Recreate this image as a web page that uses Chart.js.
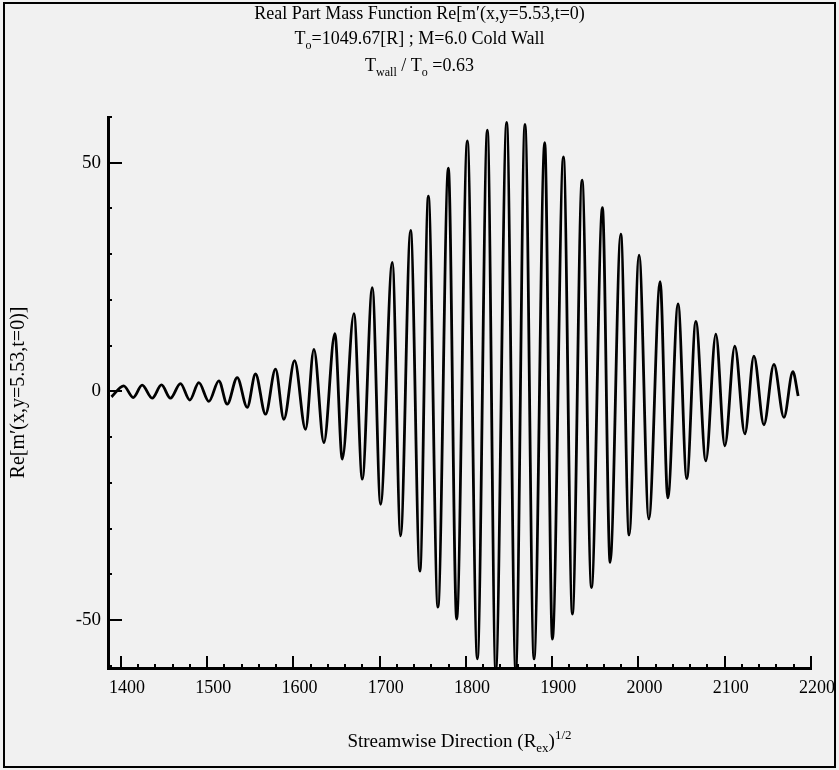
<!DOCTYPE html>
<html>
<head>
<meta charset="utf-8">
<script src="https://cdn.jsdelivr.net/npm/chart.js@4.4.1/dist/chart.umd.min.js"></script>
<style>
  html, body { margin: 0; padding: 0; background: #ffffff; }
  canvas { display: block; }
</style>
</head>
<body>
<canvas id="c" width="839" height="770"></canvas>
<script>
// Streamwise positions of the curve's turning points (start, alternating peaks/troughs, end)
const xValues = [
  1389.0, 1403.2, 1414.2, 1424.6, 1436.2, 1447.0, 1457.4, 1469.0, 1479.8, 1490.3,
  1501.9, 1513.5, 1523.2, 1534.8, 1546.4, 1556.0, 1567.6, 1579.2, 1588.9, 1601.3,
  1614.0, 1623.7, 1635.3, 1648.0, 1656.6, 1670.1, 1679.8, 1691.4, 1701.0, 1714.6,
  1724.2, 1735.8, 1746.6, 1756.4, 1767.5, 1779.6, 1789.2, 1801.6, 1813.2, 1824.8,
  1834.5, 1847.2, 1857.7, 1868.4, 1878.9, 1891.3, 1900.2, 1913.0, 1923.4, 1934.6,
  1945.5, 1958.2, 1967.1, 1979.5, 1989.1, 2000.7, 2012.0, 2025.1, 2034.0, 2045.9,
  2056.0, 2066.5, 2078.1, 2089.7, 2100.1, 2111.7, 2123.3, 2133.8, 2145.4, 2157.0,
  2168.6, 2179.0, 2185.1
];
// Re[m'] values at those points
const yValues = [
  -1.2, 1.2, -1.35, 1.35, -1.5, 1.4, -1.5, 1.7, -1.9, 1.9,
  -2.2, 2.3, -2.8, 3.0, -3.5, 3.8, -5.0, 4.85, -6.1, 6.7,
  -8.3, 9.2, -11.2, 12.6, -14.8, 17.0, -19.2, 22.7, -24.7, 28.2,
  -31.6, 35.2, -39.3, 42.7, -47.2, 48.8, -49.8, 54.8, -58.5, 57.1,
  -61.0, 58.8, -61.0, 58.4, -58.5, 54.4, -54.2, 51.3, -48.7, 46.2,
  -42.9, 40.2, -37.4, 34.4, -31.4, 29.8, -27.9, 24.0, -23.3, 19.1,
  -19.1, 15.3, -15.2, 12.5, -11.9, 9.9, -9.3, 7.7, -7.3, 5.9,
  -5.7, 4.3, -1.0
];
const xTickLabels = [1400, 1500, 1600, 1700, 1800, 1900, 2000, 2100, 2200];
const yTickLabels = [-50, 0, 50];
const xMinorStep = 20;
const yMinorStep = 10;

const titleLines = [
  [{t: "Real Part Mass Function Re[m\u2032(x,y=5.53,t=0)"}],
  [{t: "T"}, {t: "o", m: "sub"}, {t: "=1049.67[R] ; M=6.0 Cold Wall"}],
  [{t: "T"}, {t: "wall", m: "sub"}, {t: " / T"}, {t: "o", m: "sub"}, {t: " =0.63"}]
];
const xTitle = [{t: "Streamwise Direction (R"}, {t: "ex", m: "sub"}, {t: ")"}, {t: "1/2", m: "sup"}];
const yTitle = "Re[m\u2032(x,y=5.53,t=0)]";

const FONT = "'Liberation Serif', 'DejaVu Serif', serif";

function drawRich(ctx, segs, cx, y, size) {
  const small = Math.round(size * 0.66);
  let total = 0;
  segs.forEach(s => {
    ctx.font = (s.m ? small : size) + "px " + FONT;
    s.w = ctx.measureText(s.t).width;
    total += s.w;
  });
  let x = cx - total / 2;
  ctx.textAlign = "left";
  ctx.textBaseline = "alphabetic";
  segs.forEach(s => {
    ctx.font = (s.m ? small : size) + "px " + FONT;
    let dy = 0;
    if (s.m === "sub") dy = size * 0.28;
    if (s.m === "sup") dy = -size * 0.42;
    ctx.fillText(s.t, x, y + dy);
    x += s.w;
  });
}

const decor = {
  id: "decor",
  beforeDraw(chart) {
    const ctx = chart.ctx;
    ctx.save();
    ctx.fillStyle = "#f1f1f1";
    ctx.fillRect(0, 0, chart.width, chart.height);
    ctx.restore();
  },
  afterDraw(chart) {
    const ctx = chart.ctx;
    const a = chart.chartArea;
    const xs = chart.scales.x, ys = chart.scales.y;
    ctx.save();
    ctx.strokeStyle = "#000";
    ctx.fillStyle = "#000";
    // inward tick marks
    ctx.lineWidth = 2;
    for (let v = xTickLabels[0]; v <= xTickLabels[xTickLabels.length - 1]; v += xMinorStep) {
      const px = Math.round(xs.getPixelForValue(v));
      const len = (v % 100 === 0) ? 12 : 4;
      ctx.beginPath();
      ctx.moveTo(px, a.bottom);
      ctx.lineTo(px, a.bottom - len);
      ctx.stroke();
    }
    for (let v = -60; v <= 60; v += yMinorStep) {
      const py = Math.round(ys.getPixelForValue(v));
      const len = (v % 50 === 0) ? 14 : 4;
      ctx.beginPath();
      ctx.moveTo(a.left, py);
      ctx.lineTo(a.left + len, py);
      ctx.stroke();
    }
    // titles
    drawRich(ctx, titleLines[0], chart.width / 2, 19, 18);
    drawRich(ctx, titleLines[1], chart.width / 2, 44, 18);
    drawRich(ctx, titleLines[2], chart.width / 2, 71, 18);
    drawRich(ctx, xTitle, (a.left + a.right) / 2, 747, 19);
    // outer frame
    ctx.lineWidth = 2;
    ctx.strokeRect(4, 3, chart.width - 8, chart.height - 6);
    ctx.restore();
  }
};

const points = xValues.map((x, i) => ({x: x, y: yValues[i]}));

new Chart(document.getElementById("c"), {
  type: "line",
  data: {
    datasets: [{
      data: points,
      borderColor: "#000",
      borderWidth: 2.8,
      pointRadius: 0,
      fill: false,
      cubicInterpolationMode: "monotone"
    }]
  },
  options: {
    responsive: false,
    animation: false,
    events: [],
    layout: {padding: {left: 4, top: 117, right: 28, bottom: 4}},
    plugins: {legend: {display: false}, tooltip: {enabled: false}, title: {display: false}},
    scales: {
      x: {
        type: "linear",
        min: 1385,
        max: 2200,
        afterBuildTicks: s => { s.ticks = xTickLabels.map(v => ({value: v})); },
        afterFit: s => { s.height = 98; },
        ticks: {
          font: {family: FONT, size: 18},
          color: "#000",
          padding: 9,
          labelOffset: 6,
          maxRotation: 0,
          autoSkip: false,
          callback: v => String(v)
        },
        grid: {display: false, drawTicks: false},
        border: {display: true, color: "#000", width: 3}
      },
      y: {
        type: "linear",
        min: -60.5,
        max: 60,
        afterBuildTicks: s => { s.ticks = yTickLabels.map(v => ({value: v})); },
        afterFit: s => { s.width = 104; },
        ticks: {
          font: {family: FONT, size: 19},
          color: "#000",
          padding: 7,
          autoSkip: false,
          callback: v => String(v)
        },
        grid: {display: false, drawTicks: false},
        border: {display: true, color: "#000", width: 3},
        title: {
          display: true,
          text: yTitle,
          font: {family: FONT, size: 20},
          color: "#000",
          padding: {top: 3, bottom: 0}
        }
      }
    }
  },
  plugins: [decor]
});
</script>
</body>
</html>
